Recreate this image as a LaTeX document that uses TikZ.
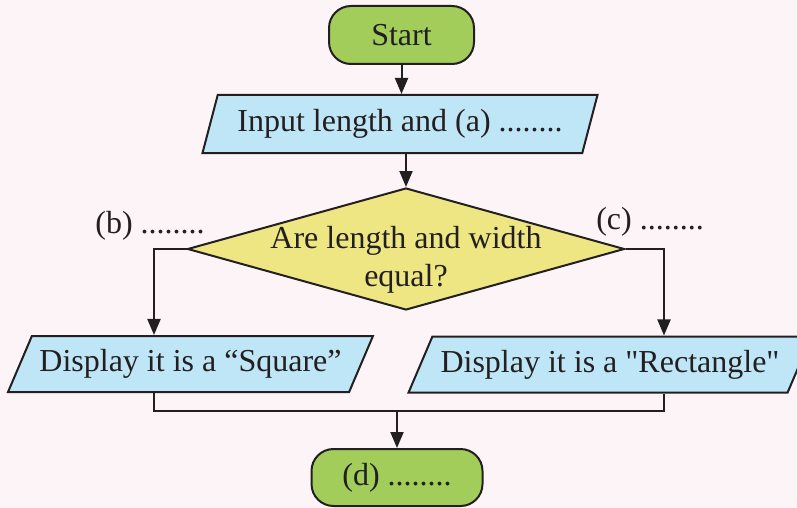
\documentclass[tikz,border=0pt]{standalone}
\usepackage{fontspec}
\setmainfont{Liberation Serif}
\usetikzlibrary{shapes.geometric, arrows.meta, calc}
\definecolor{pagebg}{RGB}{253,244,248}
\definecolor{termgreen}{RGB}{162,205,90}
\definecolor{ioblue}{RGB}{191,230,247}
\definecolor{decyellow}{RGB}{238,230,130}
\definecolor{ink}{RGB}{35,31,32}
\tikzset{
  box/.style={draw=ink, line width=1pt, text=ink, align=center, inner sep=0pt},
  terminal/.style={box, fill=termgreen, rounded corners=11pt, minimum width=72.5pt, minimum height=29pt},
  io/.style={box, fill=ioblue, trapezium, trapezium stretches=true},
  decision/.style={box, fill=decyellow, diamond, minimum width=218.5pt, minimum height=61pt},
  link/.style={draw=ink, line width=1pt},
  arr/.style={link, -{Triangle[length=8pt, width=6.5pt]}},
}

\begin{document}
\begin{tikzpicture}[x=0.5pt, y=-0.5pt, font=\fontsize{16}{19}\selectfont]
  \fill[pagebg] (0,0) rectangle (797,508);
  \useasboundingbox (0,0) rectangle (797,508);

  \node[terminal] (start) at (401.5,35) {Start};
  \node[io, trapezium left angle=65, trapezium right angle=115, minimum width=198pt, minimum height=29pt] (input) at (400,124) {Input length and (a) ........};
  \node[decision, label={[align=center, text=ink, yshift=-5.5pt]center:{Are length and width\\equal?}}] (check) at (406,249) {};
  \node[io, trapezium left angle=52, trapezium right angle=128, minimum width=182.5pt, minimum height=28pt] (square) at (190.5,364) {Display it is a ``Square''};
  \node[io, trapezium left angle=52, trapezium right angle=128, minimum width=202pt, minimum height=28pt] (rect) at (610,364.5) {Display it is a \textquotedbl Rectangle\textquotedbl};
  \node[terminal, minimum width=85.5pt, minimum height=28.5pt] (finish) at (397,477.5) {(d) ........};

  % branch labels
  \node[text=ink] (branchb) at (150,226) {(b) ........};
  \node[text=ink] (branchc) at (650,222) {(c) ........};

  \coordinate (lturn) at (154,0);
  \coordinate (rturn) at (664,0);
  \coordinate (merge) at (397,411);

  \draw[arr] (start.south) -- (start.south |- input.north);
  \draw[arr] (input.south -| check.north) -- (check.north);
  \draw[arr] (check.west) -| (lturn |- square.north);
  \draw[arr] (check.east) -| (rturn |- rect.north);
  \draw[link] (lturn |- square.south) |- (merge) -| (rturn |- rect.south);
  \draw[arr] (merge) -- (finish.north);
\end{tikzpicture}
\end{document}
